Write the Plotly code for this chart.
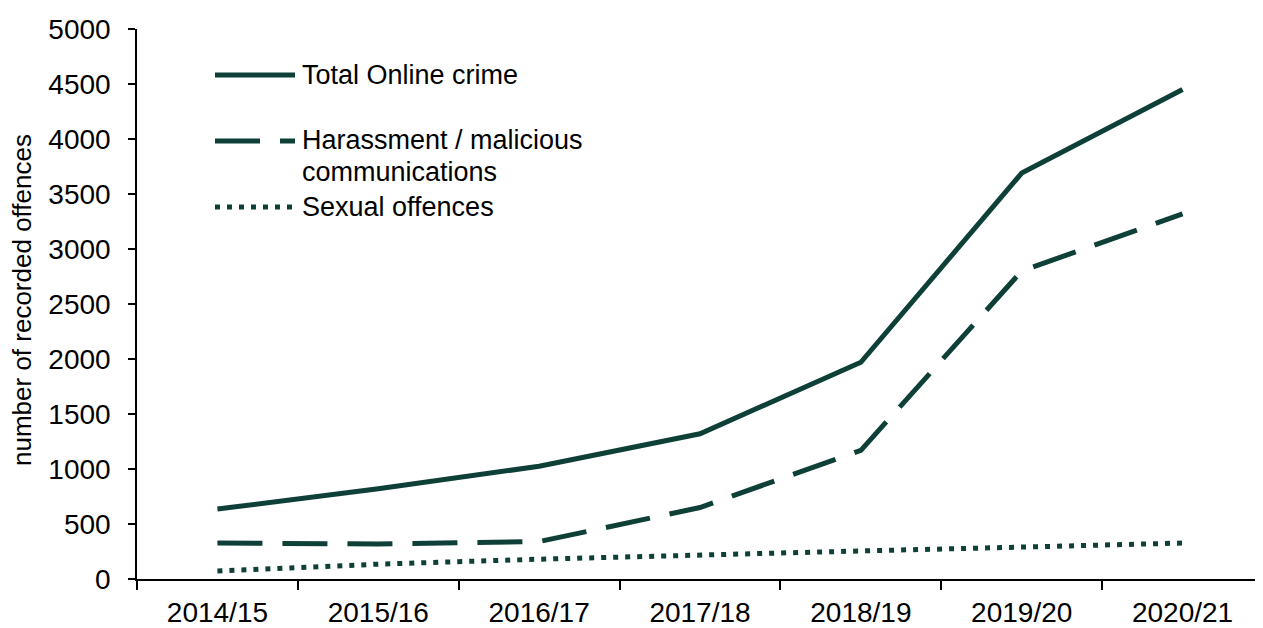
import plotly.graph_objects as go

years = ["2014/15", "2015/16", "2016/17", "2017/18", "2018/19", "2019/20", "2020/21"]
total_online = [636, 820, 1025, 1320, 1970, 3690, 4450]
harassment = [327, 318, 340, 650, 1170, 2800, 3320]
sexual = [72, 135, 180, 212, 255, 290, 327]
y_ticks = [0, 500, 1000, 1500, 2000, 2500, 3000, 3500, 4000, 4500, 5000]

COLOR = "#0f4038"
FONT = "Liberation Sans, Arial, sans-serif"
OX, OY = 8, 8            # page body margin
W, H = 1263 - OX, 628 - OY
L, R, T, B = 137 - OX, 0, 29 - OY, 628 - 579

fig = go.Figure()
fig.add_trace(go.Scatter(x=years, y=total_online, mode="lines", name="Total Online crime",
                         line=dict(color=COLOR, width=5)))
fig.add_trace(go.Scatter(x=years, y=harassment, mode="lines", name="Harassment / malicious communications",
                         line=dict(color=COLOR, width=5, dash="45px,20px")))
fig.add_trace(go.Scatter(x=years, y=sexual, mode="lines", name="Sexual offences",
                         line=dict(color=COLOR, width=5, dash="5px,7px")))

pw, ph = W - L - R, H - T - B
def px(x):
    return (x - OX - L) / pw
def py(y):
    return (H - B - (y - OY)) / ph

legend_items = [
    (75, "solid", ["Total Online crime"], [75]),
    (141, "45px,20px", ["Harassment / malicious", "communications"], [140, 172]),
    (207, "5px,7px", ["Sexual offences"], [207]),
]
shapes = []
annotations = []
for ly, dash, texts, tys in legend_items:
    shapes.append(dict(type="line", xref="paper", yref="paper",
                       x0=px(215), x1=px(295), y0=py(ly), y1=py(ly),
                       line=dict(color=COLOR, width=5, dash=dash)))
    for t, ty in zip(texts, tys):
        annotations.append(dict(xref="paper", yref="paper", x=px(300), y=py(ty),
                                xanchor="left", yanchor="middle", showarrow=False,
                                text=t, font=dict(family=FONT, size=27, color="#000")))

annotations.append(dict(xref="paper", yref="paper", x=0, y=py(300), xshift=-115,
                        xanchor="center", yanchor="middle", textangle=-90, showarrow=False,
                        text="number of recorded offences",
                        font=dict(family=FONT, size=26, color="#000")))

fig.update_layout(
    width=W, height=H,
    margin=dict(l=L, r=R, t=T, b=B, autoexpand=False),
    paper_bgcolor="white", plot_bgcolor="white",
    showlegend=False,
    shapes=shapes, annotations=annotations,
    xaxis=dict(type="category", range=[-0.5, 6.5], showgrid=False, showline=True,
               linecolor="#000", linewidth=1.5, ticks="outside", tickson="boundaries",
               ticklen=9, tickwidth=1.5, tickcolor="#000", automargin=False,
               tickfont=dict(family=FONT, size=28, color="#000"), ticklabelstandoff=8),
    yaxis=dict(range=[0, 5000], tickvals=y_ticks, showgrid=False, zeroline=False,
               showline=True, linecolor="#000", linewidth=1.5, ticks="outside",
               ticklen=7, tickwidth=1.5, tickcolor="#000", automargin=False,
               tickfont=dict(family=FONT, size=28, color="#000"), ticklabelstandoff=12),
)

fig.write_html("out.html")
